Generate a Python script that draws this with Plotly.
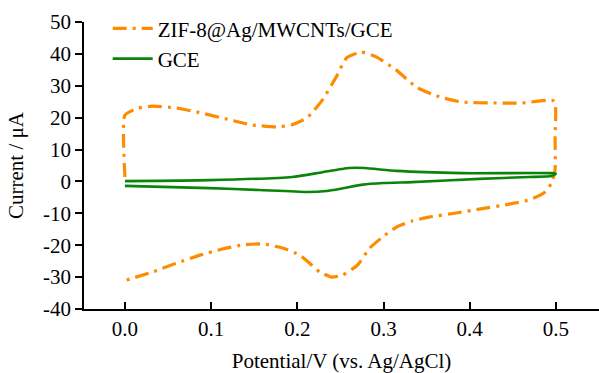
import plotly.graph_objects as go

# ZIF-8@Ag/MWCNTs/GCE cyclic voltammogram (forward then reverse scan)
zif_x = [0.0, 0.0, 0.015, 0.032, 0.060, 0.083, 0.122, 0.148, 0.176, 0.193, 0.211, 0.229,
         0.245, 0.257, 0.274, 0.292, 0.315, 0.338, 0.365, 0.391, 0.431, 0.461, 0.498,
         0.499, 0.499, 0.495, 0.486, 0.469, 0.446, 0.411, 0.384, 0.353, 0.333, 0.315,
         0.299, 0.284, 0.270, 0.252, 0.240, 0.226, 0.214, 0.203, 0.183, 0.160, 0.137,
         0.113, 0.087, 0.060, 0.032, 0.002]
zif_y = [1.4, 20.8, 23.0, 23.6, 23.0, 21.8, 19.3, 17.7, 17.1, 17.7, 19.9, 25.5,
         32.7, 38.7, 40.6, 39.0, 34.9, 29.6, 26.5, 24.9, 24.6, 24.6, 25.2,
         14.0, 3.6, -0.5, -3.6, -5.8, -7.1, -8.7, -9.9, -11.2, -12.4, -14.3,
         -17.4, -20.9, -26.2, -29.4, -30.0, -28.4, -25.6, -23.1, -20.9, -19.6, -19.9,
         -21.2, -23.1, -25.6, -28.4, -30.9]

# bare GCE
gce_x = [0.0, 0.098, 0.194, 0.229, 0.260, 0.278, 0.315, 0.391, 0.495, 0.500,
         0.495, 0.469, 0.411, 0.333, 0.300, 0.276, 0.252, 0.234, 0.211, 0.156, 0.098, 0.0]
gce_y = [0.1, 0.4, 1.4, 2.9, 4.2, 4.2, 3.3, 2.6, 2.6, 2.4,
         1.7, 1.4, 0.8, -0.2, -0.5, -1.0, -2.2, -3.0, -3.3, -2.7, -2.1, -1.4]

x_ticks = [0.0, 0.1, 0.2, 0.3, 0.4, 0.5]
x_tick_labels = ["0.0", "0.1", "0.2", "0.3", "0.4", "0.5"]
y_ticks = [-40, -30, -20, -10, 0, 10, 20, 30, 40, 50]
y_tick_labels = [str(v) for v in y_ticks]

FONT = "Times New Roman, Liberation Serif, serif"

fig = go.Figure()
fig.add_trace(go.Scatter(
    x=zif_x, y=zif_y, mode="lines", name="ZIF-8@Ag/MWCNTs/GCE",
    line=dict(color="#FF8C00", width=3.2, dash="14px,6px,3px,6px", shape="spline", smoothing=0.5),
))
fig.add_trace(go.Scatter(
    x=gce_x, y=gce_y, mode="lines", name="GCE",
    line=dict(color="#0A850A", width=2.6, shape="spline", smoothing=0.5),
))

fig.update_layout(
    width=599, height=373,
    margin=dict(l=84, r=0, t=22, b=64),
    paper_bgcolor="white", plot_bgcolor="white",
    font=dict(family=FONT, size=21, color="black"),
    showlegend=True,
    legend=dict(x=0.046, y=1.048, xanchor="left", yanchor="top",
                bgcolor="rgba(0,0,0,0)", font=dict(family=FONT, size=21),
                tracegroupgap=0, itemwidth=40),
    xaxis=dict(
        range=[-0.0475, 0.55], tickvals=x_ticks, ticktext=x_tick_labels,
        ticks="inside", ticklen=7, tickwidth=1.5, tickcolor="black",
        showline=True, linecolor="black", linewidth=1.5, mirror=False,
        showgrid=False, zeroline=False, automargin=False,
        title=dict(text="Potential/V (vs. Ag/AgCl)", standoff=24,
                   font=dict(family=FONT, size=21)),
        tickfont=dict(family=FONT, size=21),
    ),
    yaxis=dict(
        range=[-40, 50], tickvals=y_ticks, ticktext=y_tick_labels,
        ticks="outside", ticklen=7, tickwidth=1.5, tickcolor="black",
        showline=True, linecolor="black", linewidth=1.5, mirror=False,
        showgrid=False, zeroline=False, automargin=False,
        title=dict(text="Current / μA", standoff=14,
                   font=dict(family=FONT, size=21)),
        tickfont=dict(family=FONT, size=21),
    ),
)

fig.write_html("out.html")
